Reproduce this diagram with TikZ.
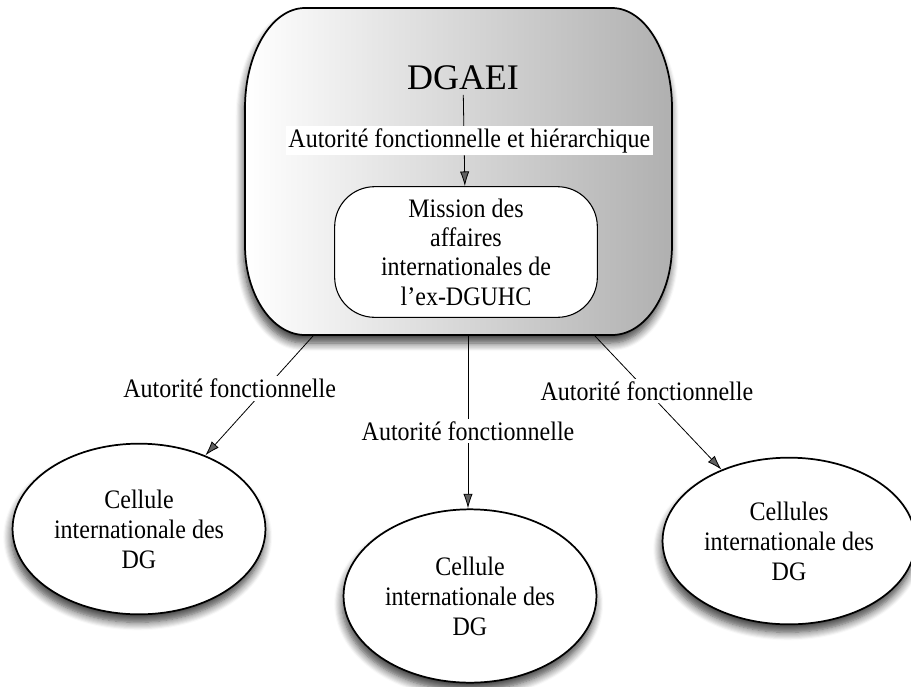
\documentclass[tikz,border=0pt]{standalone}
\usepackage{fontspec}
\setmainfont[FakeStretch=0.9]{Liberation Serif}
\newfontfamily\titrefont{Liberation Serif}
\usepackage{tikz}
\usetikzlibrary{positioning}
\usetikzlibrary{arrows.meta, shapes.geometric, shadows.blur, calc}

\tikzset{
    ombre/.style={blur shadow={shadow xshift=-1pt, shadow yshift=-6pt, shadow blur steps=8,
        shadow blur radius=6pt, shadow opacity=75}},
    cellule/.style={ellipse, draw, line width=1.3pt, fill=white, align=center,
        minimum width=187pt, minimum height=128pt, font=\fontsize{20}{22.5}\selectfont, ombre},
    mission/.style={rectangle, rounded corners=30pt, draw, line width=0.8pt, fill=white,
        align=center, minimum width=197pt, minimum height=98pt, font=\fontsize{20}{22}\selectfont},
    lien/.style={-{Latex[length=11pt,width=7pt]}, line width=0.6pt},
    etiquette/.style={fill=white, inner sep=2pt, font=\fontsize{20}{22}\selectfont},
}

\begin{document}
\begin{tikzpicture}[x=0.75pt, y=0.75pt]
            \useasboundingbox (0,0) rectangle (911,-686);
            \path[draw, line width=1.3pt, left color=white, right color=black!31, ombre]
                (305,-8) -- (612,-8)
                arc[start angle=90, end angle=0, x radius=60, y radius=100]
                -- (672,-245)
                arc[start angle=0, end angle=-90, x radius=60, y radius=90]
                -- (305,-335)
                arc[start angle=270, end angle=180, x radius=60, y radius=90]
                -- (245,-108)
                arc[start angle=180, end angle=90, x radius=60, y radius=100]
                -- cycle;
            \node (dgaei) at (463,-78) {\titrefont\fontsize{27}{30}\selectfont DGAEI};
            \node[mission] (mission) at (466,-252) {Mission des\\affaires\\internationales de\\l'ex-DGUHC};
            \draw[lien] (dgaei) -- (mission)
                node[etiquette, pos=.5, xshift=4pt] {Autorité fonctionnelle et hiérarchique};
            \coordinate (sortieG) at (313,-336);
            \coordinate (sortieM) at (468,-336);
            \coordinate (sortieD) at (595,-336);
            \node[cellule] (celluleG) at (139,-529) {Cellule\\internationale des\\DG};
            \node[cellule, minimum width=184pt, minimum height=130pt] (celluleM) at (470,-596) {Cellule\\internationale des\\DG};
            \node[cellule, minimum width=181pt, minimum height=125pt] (celluleD) at (789,-541) {Cellules\\internationale des\\DG};
            \draw[lien] (sortieG) -- (celluleG)
                node[etiquette, pos=.44, xshift=-27pt] {Autorité fonctionnelle};
            \draw[lien] (sortieM) -- (sortieM |- celluleM.north)
                node[etiquette, pos=.55] {Autorité fonctionnelle};
            \draw[lien] (sortieD) -- (celluleD)
                node[etiquette, pos=.41] {Autorité fonctionnelle};
        \end{tikzpicture}
\end{document}
